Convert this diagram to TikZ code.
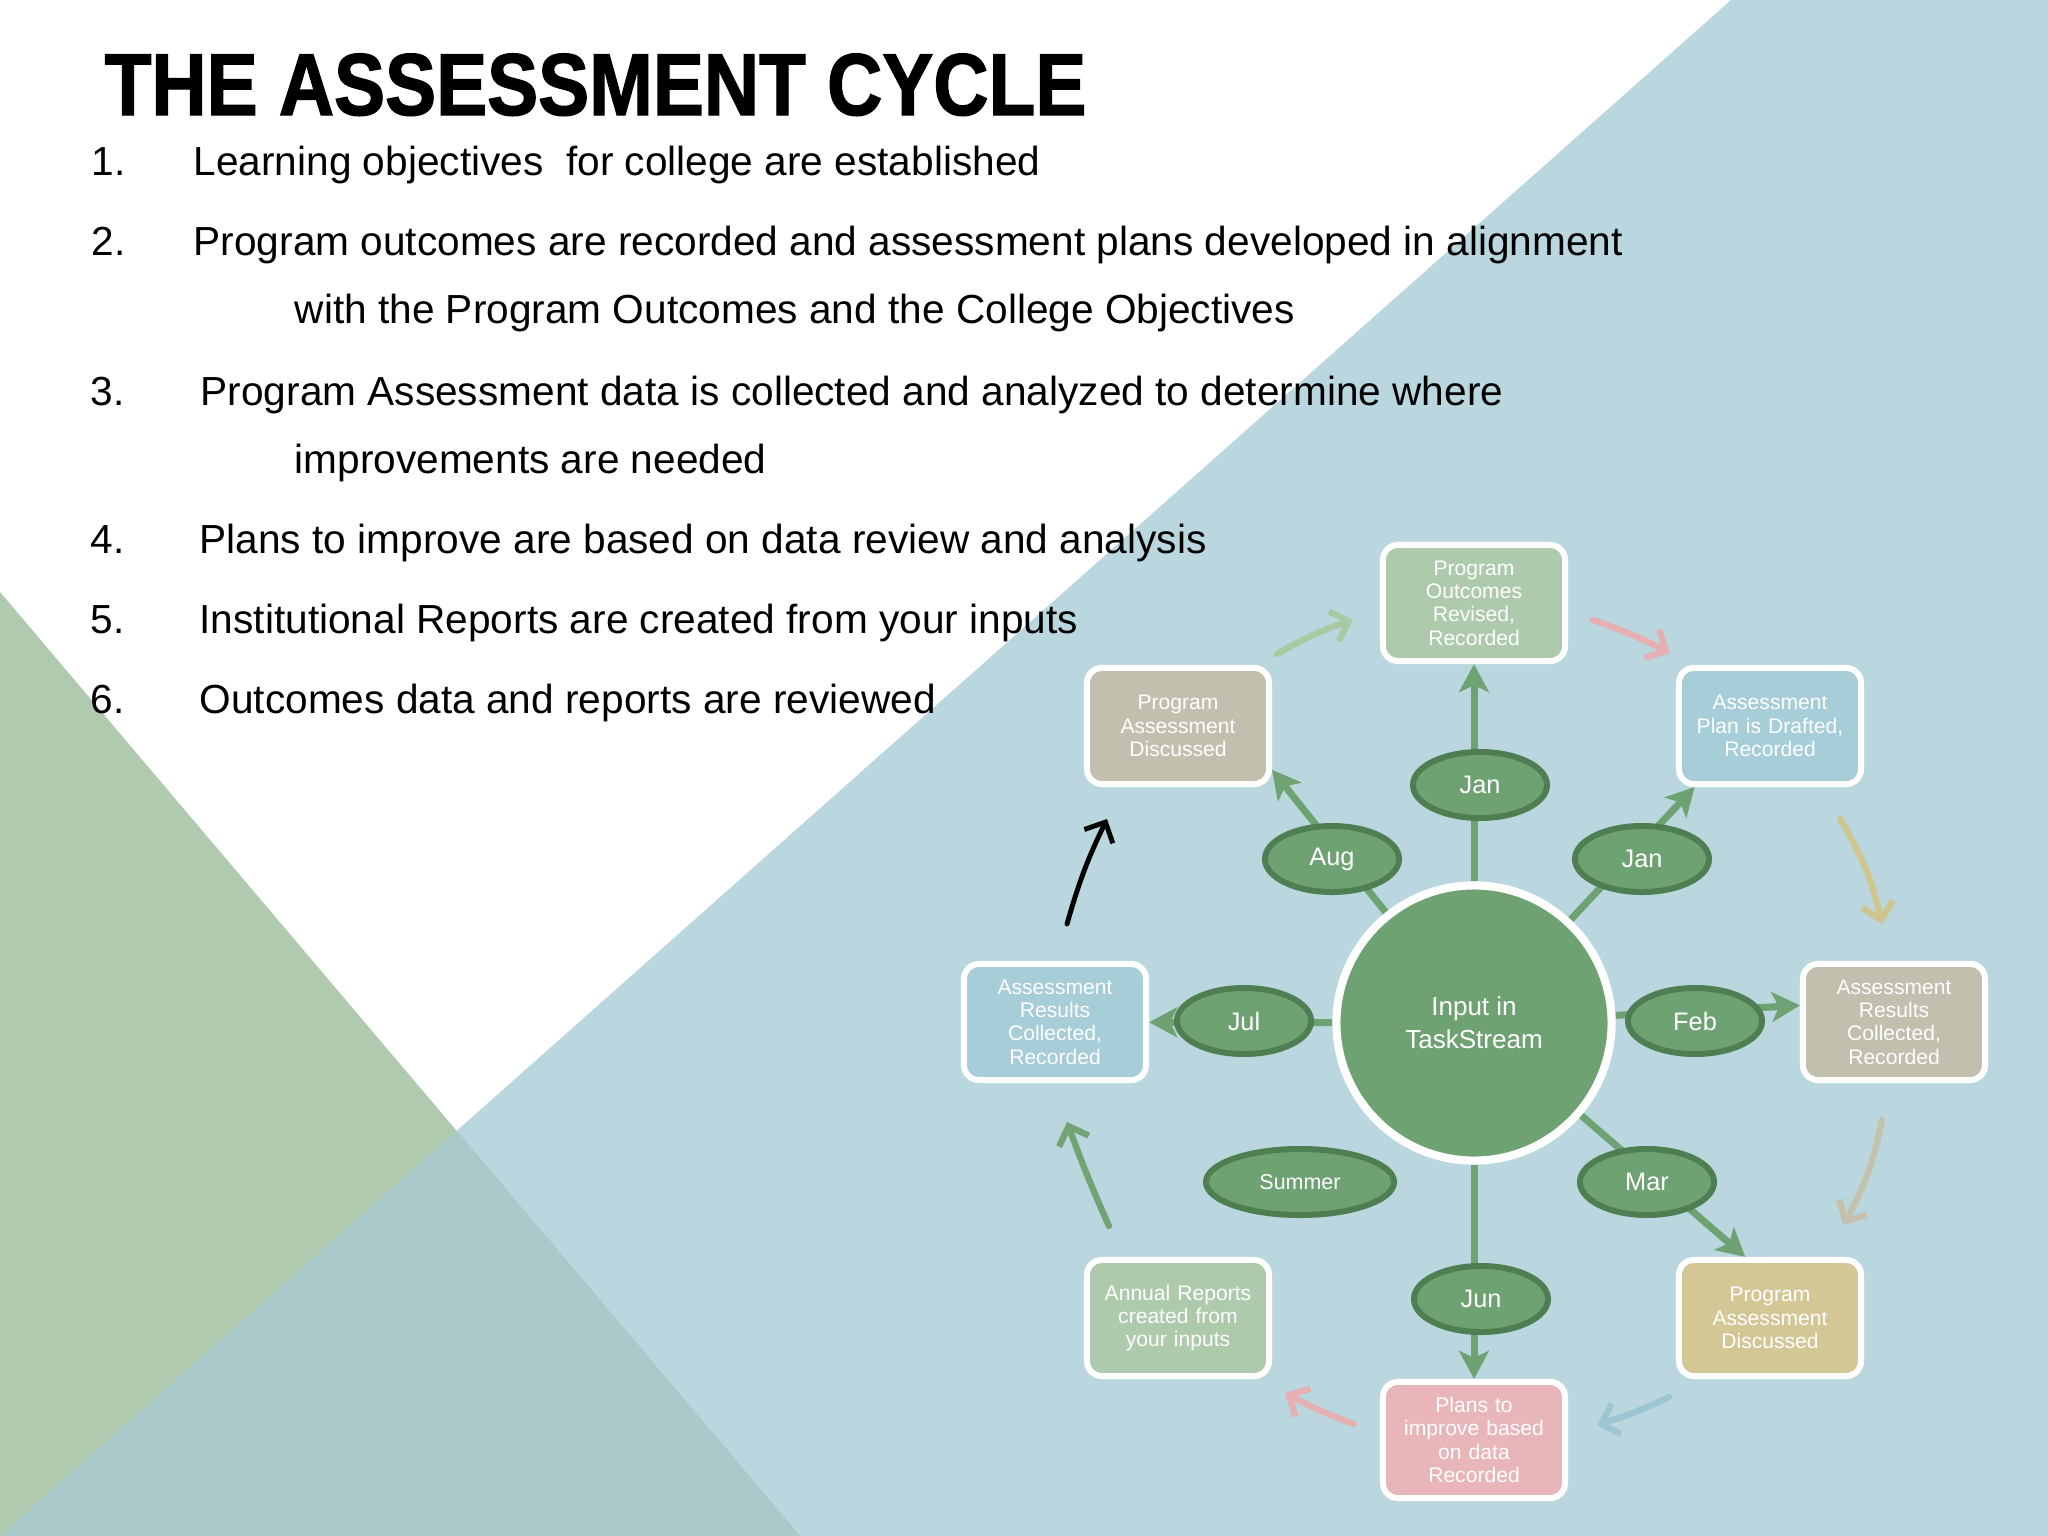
\documentclass[tikz,border=0pt]{standalone}
\usepackage{fontspec}
\setmainfont{Liberation Sans}
\newfontfamily\titlefont[FakeStretch=0.87,FakeBold=1.5]{Liberation Sans}
\usetikzlibrary{arrows.meta,shapes.geometric,backgrounds}
\definecolor{bgblue}{HTML}{BAD7DF}
\definecolor{bggreen}{HTML}{B0CAB0}
\definecolor{bgover}{HTML}{A9C9CB}
\definecolor{ngreen}{HTML}{6FA273}
\definecolor{ndark}{HTML}{4E7E51}
\definecolor{fgreen}{HTML}{AECAAD}
\definecolor{fblue}{HTML}{A6CDD8}
\definecolor{fgrey}{HTML}{C2BFAE}
\definecolor{ftan}{HTML}{D3C796}
\definecolor{fpink}{HTML}{E8B5B8}
\definecolor{alightgreen}{HTML}{A9C9A3}
\definecolor{apink}{HTML}{E6B0B3}
\definecolor{ayellow}{HTML}{CFC58E}
\definecolor{agrey}{HTML}{C4C1AF}
\definecolor{ablue}{HTML}{9CC6D4}
\definecolor{amgreen}{HTML}{72A374}
\tikzset{
  listtxt/.style={anchor=base west, inner sep=0pt, font=\fontsize{11.55}{13}\selectfont},
  boxs/.style={draw=white, line width=1.7pt, rounded corners=0.15cm, minimum width=1.82cm,
    minimum height=1.16cm, text width=1.75cm, align=center, inner sep=0pt, text=white,
    font=\fontsize{6}{6.63}\selectfont},
  ell/.style={ellipse, draw=ndark, line width=1.7pt, fill=ngreen, minimum width=1.34cm,
    minimum height=0.66cm, inner sep=0pt, text=white, font=\fontsize{7.2}{8}\selectfont},
  circ/.style={circle, draw=white, line width=2.3pt, fill=ngreen, minimum size=2.75cm,
    inner sep=0pt, text=white, align=center, font=\fontsize{7.4}{9.4}\selectfont},
  conn/.style={draw=ngreen, line width=2pt, -{Stealth[length=8pt,width=8.5pt,inset=2pt]}},
  cyc/.style={line width=1.8pt, line cap=round, -{Straight Barb[length=4.5pt,width=9pt]}}
}
\begin{document}
\begin{tikzpicture}[x=0.01cm,y=-0.01cm]
\useasboundingbox (0,0) rectangle (2048,1536);
% background
\begin{scope}[on background layer]
\fill[white] (0,0) rectangle (2048,1536);
\fill[bgblue] (1731,0) -- (2048,0) -- (2048,1536) -- (0,1536) -- cycle;
\fill[bggreen] (0,592) -- (800,1536) -- (0,1536) -- cycle;
\fill[bgover] (0,1536) -- (intersection of 1731,0--0,1536 and 0,592--800,1536) -- (800,1536) -- cycle;
\end{scope}
% title and list
\node[anchor=base west, inner sep=0pt, font=\fontsize{25}{30}\selectfont\titlefont\bfseries] (title) at (104,115) {THE ASSESSMENT CYCLE};
\node[listtxt] (n1) at (91,175) {1.};
\node[listtxt] (t1) at (193,175) {Learning objectives\ \ for college are established};
\node[listtxt] (n2) at (91,255) {2.};
\node[listtxt] (t2) at (193,255) {Program outcomes are recorded and assessment plans developed in alignment};
\node[listtxt] (t2b) at (294,323) {with the Program Outcomes and the College Objectives};
\node[listtxt] (n3) at (90,405) {3.};
\node[listtxt] (t3) at (200,405) {Program Assessment data is collected and analyzed to determine where};
\node[listtxt] (t3b) at (294,473) {improvements are needed};
\node[listtxt] (n4) at (90,553) {4.};
\node[listtxt] (t4) at (199,553) {Plans to improve are based on data review and analysis};
\node[listtxt] (n5) at (90,633) {5.};
\node[listtxt] (t5) at (199,633) {Institutional Reports are created from your inputs};
\node[listtxt] (n6) at (90,713) {6.};
\node[listtxt] (t6) at (199,713) {Outcomes data and reports are reviewed};
% diagram nodes
\node[circ] (c) at (1474,1023) {Input in\\TaskStream};
\node[boxs, fill=fgreen] (top) at (1474,603) {Program\\Outcomes\\Revised,\\Recorded};
\node[boxs, fill=fblue] (tr) at (1770,726) {Assessment\\Plan is Drafted,\\Recorded};
\node[boxs, fill=fgrey] (r) at (1894,1022) {Assessment\\Results\\Collected,\\Recorded};
\node[boxs, fill=ftan] (br) at (1770,1318) {Program\\Assessment\\Discussed};
\node[boxs, fill=fpink] (b) at (1474,1440) {Plans to\\improve based\\on data\\Recorded};
\node[boxs, fill=fgreen] (bl) at (1178,1318) {Annual Reports\\created from\\your inputs};
\node[boxs, fill=fblue] (l) at (1055,1022) {Assessment\\Results\\Collected,\\Recorded};
\node[boxs, fill=fgrey] (tl) at (1178,726) {Program\\Assessment\\Discussed};
\node[ell] (ejan1) at (1480,785) {Jan};
\node[ell] (eaug) at (1332,859) {Aug};
\node[ell] (ejan2) at (1642,859) {Jan};
\node[ell] (ejul) at (1244,1021) {Jul};
\node[ell] (efeb) at (1695,1021) {Feb};
\node[ell, minimum width=1.88cm, font=\fontsize{6.1}{7}\selectfont] (esum) at (1300,1182) {Summer};
\node[ell] (emar) at (1647,1182) {Mar};
\node[ell] (ejun) at (1481,1299) {Jun};
% spokes
\begin{scope}[on background layer]
\draw[conn] (c) -- (top);
\draw[conn] (c) -- (tr.219);
\draw[conn] (c) -- (tl.-25);
\draw[conn] (c) -- (l);
\draw[conn] (c) -- (r.170);
\draw[conn] (c) -- (br.112);
\draw[conn] (c) -- (b);
\end{scope}
% cycle arrows
\coordinate (a1s) at (1277,654); \coordinate (a1e) at (1353,620);
\coordinate (a2s) at (1593,620); \coordinate (a2e) at (1670,653);
\coordinate (a3s) at (1840,819); \coordinate (a3e) at (1882,924);
\coordinate (a4s) at (1882,1120); \coordinate (a4e) at (1843,1225);
\coordinate (a5s) at (1669,1397); \coordinate (a5e) at (1597,1425);
\coordinate (a6s) at (1354,1424); \coordinate (a6e) at (1285,1393);
\coordinate (a7s) at (1109,1226); \coordinate (a7e) at (1067,1122);
\coordinate (a8s) at (1067,924); \coordinate (a8e) at (1107,819);
\draw[cyc, alightgreen] (a1s) to[bend left=6] (a1e);
\draw[cyc, apink] (a2s) to[bend left=4] (a2e);
\draw[cyc, ayellow] (a3s) to[bend left=9] (a3e);
\draw[cyc, agrey] (a4s) to[bend left=9] (a4e);
\draw[cyc, ablue] (a5s) to[bend left=4] (a5e);
\draw[cyc, apink] (a6s) to[bend left=4] (a6e);
\draw[cyc, amgreen] (a7s) to[bend left=2] (a7e);
\draw[cyc, black, line width=1.4pt] (a8s) to[bend left=5] (a8e);
\end{tikzpicture}
\end{document}
